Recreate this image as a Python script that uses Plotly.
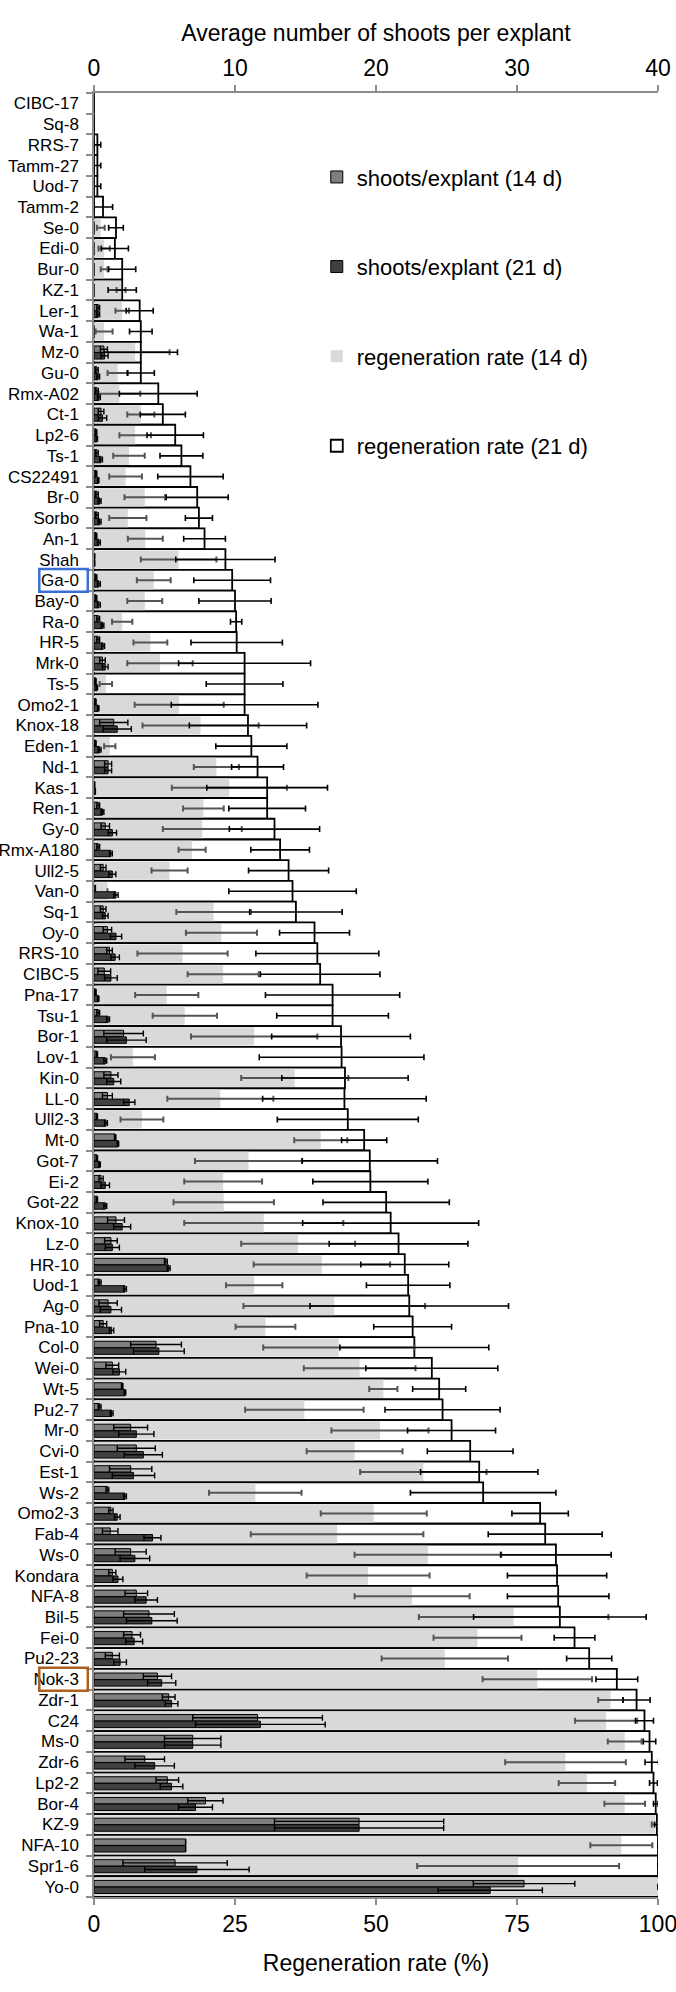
"""
regeneration rate and shoots per explant by accession
"""

import plotly.graph_objects as go

accessions = [
    "CIBC-17", "Sq-8", "RRS-7", "Tamm-27", "Uod-7", "Tamm-2", "Se-0", "Edi-0", "Bur-0", "KZ-1",
    "Ler-1", "Wa-1", "Mz-0", "Gu-0", "Rmx-A02", "Ct-1", "Lp2-6", "Ts-1", "CS22491", "Br-0",
    "Sorbo", "An-1", "Shah", "Ga-0", "Bay-0", "Ra-0", "HR-5", "Mrk-0", "Ts-5", "Omo2-1",
    "Knox-18", "Eden-1", "Nd-1", "Kas-1", "Ren-1", "Gy-0", "Rmx-A180", "Ull2-5", "Van-0", "Sq-1",
    "Oy-0", "RRS-10", "CIBC-5", "Pna-17", "Tsu-1", "Bor-1", "Lov-1", "Kin-0", "LL-0", "Ull2-3",
    "Mt-0", "Got-7", "Ei-2", "Got-22", "Knox-10", "Lz-0", "HR-10", "Uod-1", "Ag-0", "Pna-10",
    "Col-0", "Wei-0", "Wt-5", "Pu2-7", "Mr-0", "Cvi-0", "Est-1", "Ws-2", "Omo2-3", "Fab-4",
    "Ws-0", "Kondara", "NFA-8", "Bil-5", "Fei-0", "Pu2-23", "Nok-3", "Zdr-1", "C24", "Ms-0",
    "Zdr-6", "Lp2-2", "Bor-4", "KZ-9", "NFA-10", "Spr1-6", "Yo-0",
]

# regeneration rate (%) after 21 d / 14 d, with error
regen_21d = [
    0, 0, 0.6, 0.6, 0.6, 1.6, 3.9, 3.7, 5.0, 5.0,
    8.1, 8.3, 8.3, 8.3, 11.4, 12.2, 14.4, 15.5, 17.1, 18.3,
    18.6, 19.6, 23.3, 24.5, 25.0, 25.2, 25.3, 26.7, 26.7, 26.7,
    27.3, 27.9, 29.0, 30.7, 30.7, 32.0, 33.0, 34.5, 35.2, 35.8,
    39.1, 39.6, 40.1, 42.3, 42.3, 43.8, 43.9, 44.5, 44.4, 45.0,
    47.9, 48.9, 49.0, 51.8, 52.6, 54.0, 55.1, 55.7, 55.9, 56.5,
    56.8, 59.9, 61.2, 61.8, 63.4, 66.7, 68.3, 69.0, 79.1, 80.0,
    81.9, 82.1, 82.3, 82.6, 85.2, 87.8, 92.7, 96.2, 97.6, 98.5,
    98.9, 99.2, 99.6, 99.8, 100, 100, 100,
]
regen_21d_err = [
    0, 0, 0.6, 0.6, 0.6, 1.7, 1.3, 2.4, 2.4, 2.5,
    2.4, 2.0, 6.5, 2.4, 6.9, 4.0, 5.0, 3.8, 5.8, 5.5,
    2.4, 3.7, 8.8, 6.8, 6.4, 1.0, 8.1, 11.7, 6.8, 13.0,
    10.4, 6.3, 4.6, 10.7, 6.8, 8.0, 5.2, 7.1, 11.3, 8.2,
    6.2, 10.9, 10.6, 11.9, 9.9, 12.3, 14.6, 11.2, 14.5, 12.5,
    4.0, 12.0, 10.2, 11.2, 15.6, 12.3, 7.8, 7.4, 17.6, 6.9,
    13.2, 11.7, 4.7, 10.2, 7.8, 7.6, 10.4, 12.9, 5.0, 10.1,
    9.8, 8.8, 9.0, 15.3, 3.6, 4.0, 3.7, 2.4, 1.6, 1.1,
    1.2, 0.7, 0.4, 0.4, 0, 0, 0,
]
regen_14d = [
    0, 0, 0, 0, 0, 0, 1.2, 1.8, 1.8, 4.8,
    5.0, 1.8, 7.3, 4.2, 4.5, 8.3, 7.3, 6.2, 5.6, 9.0,
    6.0, 9.1, 15.0, 10.6, 9.0, 5.0, 10.0, 11.7, 2.1, 15.1,
    18.9, 2.8, 21.7, 24.0, 19.4, 19.2, 17.4, 13.4, 2.4, 21.2,
    22.6, 15.7, 22.9, 12.9, 16.1, 28.4, 6.9, 35.6, 22.4, 8.5,
    40.2, 27.4, 22.9, 23.0, 30.1, 36.2, 40.4, 28.4, 42.6, 30.4,
    43.4, 47.1, 51.3, 37.3, 50.7, 46.2, 58.4, 28.6, 49.6, 43.1,
    59.2, 48.6, 56.4, 74.4, 68.0, 62.2, 78.6, 91.6, 90.8, 94.1,
    83.6, 87.4, 94.1, 99.5, 93.5, 75.2, 100,
]
regen_14d_err = [
    0, 0, 0, 0, 0, 0, 0.7, 1.0, 0.6, 0.8,
    1.2, 1.5, 6.1, 1.8, 3.7, 2.4, 2.8, 2.8, 2.9, 3.6,
    3.3, 3.1, 6.7, 3.0, 3.1, 1.8, 3.0, 5.8, 1.1, 7.9,
    10.3, 1.0, 4.0, 10.2, 3.6, 7.0, 2.4, 3.2, 0, 6.6,
    6.3, 8.0, 6.3, 5.6, 5.7, 11.2, 3.9, 9.5, 9.4, 3.8,
    4.7, 9.5, 6.9, 8.9, 14.1, 10.1, 12.1, 5.0, 16.1, 5.3,
    13.4, 9.9, 2.5, 10.5, 8.6, 8.5, 11.2, 8.2, 9.4, 15.3,
    13.0, 10.9, 10.2, 16.8, 7.8, 11.2, 9.7, 2.2, 5.5, 3.0,
    10.7, 5.0, 3.6, 0.6, 5.5, 17.9, 0,
]

# average number of shoots per explant after 14 d / 21 d, with error
shoots_14d = [0] * 10 + [
    0.3, 0, 0.7, 0.2, 0.2, 0.5, 0.15, 0.2, 0.15, 0.2,
    0.2, 0.15, 0.05, 0.15, 0.15, 0.3, 0.3, 0.6, 0.1, 0.1,
    1.4, 0.1, 1.0, 0.05, 0.3, 0.8, 0.3, 0.65, 0.1, 0.65,
    0.95, 1.1, 0.73, 0.1, 0.3, 2.1, 0.2, 1.2, 0.95, 0.2,
    1.5, 0.2, 0.5, 0.2, 1.56, 1.2, 5.1, 0.4, 1.0, 0.65,
    4.4, 1.3, 2.0, 0.4, 2.6, 3.0, 2.6, 0.95, 1.2, 1.15,
    2.6, 1.3, 3.0, 3.9, 2.7, 1.3, 4.5, 5.3, 11.6, 7.0,
    3.6, 5.2, 7.9, 18.8, 6.5, 5.75, 30.5,
]
shoots_14d_err = [0] * 10 + [
    0.1, 0, 0.25, 0.1, 0.1, 0.2, 0.05, 0.1, 0.05, 0.1,
    0.1, 0.05, 0, 0.05, 0.05, 0.1, 0.1, 0.2, 0.05, 0.05,
    1.0, 0.05, 0.25, 0, 0.1, 0.3, 0.1, 0.2, 0, 0.2,
    0.3, 0.2, 0.45, 0.05, 0.1, 1.4, 0.05, 0.5, 0.35, 0.05,
    0.05, 0.05, 0.15, 0.05, 0.6, 0.45, 0.1, 0.1, 0.65, 0.25,
    1.8, 0.45, 0.05, 0.1, 1.2, 1.35, 1.5, 0.1, 0.15, 0.55,
    1.1, 0.25, 0.8, 1.8, 0.6, 0.5, 1.0, 0.45, 4.6, 2.0,
    1.4, 0.8, 1.25, 6.0, 0, 3.7, 3.6,
]
shoots_21d = [0] * 10 + [
    0.3, 0, 0.75, 0.3, 0.35, 0.6, 0.2, 0.5, 0.3, 0.4,
    0.4, 0.35, 0.05, 0.35, 0.35, 0.6, 0.65, 0.8, 0.2, 0.3,
    1.65, 0.4, 1.0, 0.1, 0.6, 1.3, 1.2, 1.3, 1.56, 0.8,
    1.56, 1.5, 1.2, 0.3, 1.0, 2.3, 0.8, 1.4, 2.5, 0.85,
    1.7, 0.4, 0.8, 0.8, 2.0, 1.3, 5.3, 2.2, 1.2, 1.25,
    4.6, 1.8, 2.2, 1.25, 3.0, 3.5, 2.8, 2.2, 1.65, 4.15,
    2.9, 1.7, 3.7, 4.1, 2.85, 1.85, 4.8, 5.5, 11.8, 7.0,
    4.3, 5.5, 7.2, 18.8, 6.5, 7.3, 28.1,
]
shoots_21d_err = [0] * 10 + [
    0.1, 0, 0.25, 0.1, 0.1, 0.3, 0.05, 0.1, 0.05, 0.1,
    0.1, 0.1, 0, 0.1, 0.1, 0.1, 0.1, 0.2, 0.05, 0.05,
    1.0, 0.1, 0.25, 0, 0.1, 0.3, 0.1, 0.25, 0.15, 0.2,
    0.4, 0.3, 0.45, 0.05, 0.1, 1.4, 0.1, 0.5, 0.4, 0.1,
    0.05, 0.05, 0.3, 0.1, 0.6, 0.5, 0.1, 0.1, 0.75, 0.15,
    1.8, 0.45, 0.05, 0.1, 1.25, 1.35, 1.5, 0.1, 0.2, 0.6,
    1.05, 0.35, 0.8, 1.8, 0.6, 0.45, 1.0, 0.45, 4.6, 2.0,
    1.4, 0.8, 1.2, 6.0, 0, 3.7, 3.7,
]

highlighted = {"Ga-0": "#3b6fd6", "Nok-3": "#b0601e"}

FONT = "Arial, Liberation Sans, sans-serif"
AXIS_CLR = "#8c8c8c"
LIGHT_CLR = "#d9d9d9"
S14_CLR = "#7f7f7f"
S21_CLR = "#404040"

pos = list(range(len(accessions)))
n = len(accessions)


def err_points(values, offset):
    """x/y for the error-bar scatter (skip empty rows)"""
    xs = [v if v > 0 else None for v in values]
    ys = [p + offset for p in pos]
    return xs, ys


def err_style(errs, color, thickness):
    return dict(type="data", array=errs, symmetric=True, color=color,
                thickness=thickness, width=3)


fig = go.Figure()

# regeneration rate bars (bottom axis)
fig.add_trace(go.Bar(
    x=regen_21d, y=pos, orientation="h", width=1.0,
    marker=dict(color="white", line=dict(color="black", width=1.8)),
    name="regeneration rate (21 d)", legendrank=4, legendgroup="r21",
    xaxis="x", yaxis="y",
))
fig.add_trace(go.Bar(
    x=regen_14d, y=pos, orientation="h", width=0.88,
    marker=dict(color=LIGHT_CLR, line=dict(width=0)),
    name="regeneration rate (14 d)", legendrank=3, legendgroup="r14",
    xaxis="x", yaxis="y",
))
xs, ys = err_points(regen_14d, 0)
fig.add_trace(go.Scatter(
    x=xs, y=ys, mode="markers", marker=dict(size=0, color="rgba(0,0,0,0)"),
    error_x=err_style(regen_14d_err, "#555555", 2), showlegend=False,
    hoverinfo="skip", xaxis="x", yaxis="y",
))
xs, ys = err_points(regen_21d, 0)
fig.add_trace(go.Scatter(
    x=xs, y=ys, mode="markers", marker=dict(size=0, color="rgba(0,0,0,0)"),
    error_x=err_style(regen_21d_err, "black", 1.6), showlegend=False,
    hoverinfo="skip", xaxis="x", yaxis="y",
))

# shoots per explant bars (top axis)
fig.add_trace(go.Bar(
    x=shoots_14d, y=pos, orientation="h", width=0.31, offset=-0.30,
    marker=dict(color=S14_CLR, line=dict(color="black", width=1)),
    name="shoots/explant (14 d)", legendrank=1, legendgroup="s14",
    xaxis="x2", yaxis="y",
))
fig.add_trace(go.Bar(
    x=shoots_21d, y=pos, orientation="h", width=0.31, offset=0.02,
    marker=dict(color=S21_CLR, line=dict(color="black", width=1)),
    name="shoots/explant (21 d)", legendrank=2, legendgroup="s21",
    xaxis="x2", yaxis="y",
))
xs, ys = err_points(shoots_14d, -0.145)
fig.add_trace(go.Scatter(
    x=xs, y=ys, mode="markers", marker=dict(size=0, color="rgba(0,0,0,0)"),
    error_x=err_style(shoots_14d_err, "black", 1.4), showlegend=False,
    hoverinfo="skip", xaxis="x2", yaxis="y",
))
xs, ys = err_points(shoots_21d, 0.175)
fig.add_trace(go.Scatter(
    x=xs, y=ys, mode="markers", marker=dict(size=0, color="rgba(0,0,0,0)"),
    error_x=err_style(shoots_21d_err, "black", 1.4), showlegend=False,
    hoverinfo="skip", xaxis="x2", yaxis="y",
))

# boxes around highlighted accession labels
for name, clr in highlighted.items():
    i = accessions.index(name)
    fig.add_shape(
        type="rect", xref="paper", yref="y",
        x0=-0.097, x1=-0.011, y0=i - 0.55, y1=i + 0.55,
        line=dict(color=clr, width=2.5), fillcolor="rgba(0,0,0,0)",
    )

axis_common = dict(
    showgrid=False, zeroline=False, showline=True, linecolor=AXIS_CLR, linewidth=1.5,
    ticks="outside", ticklen=6, tickcolor=AXIS_CLR, tickwidth=1.5,
    tickfont=dict(size=23, color="black"), automargin=False, ticklabeloverflow="allow",
)

fig.update_layout(
    width=676,
    height=1992,
    margin=dict(t=93, b=95, l=94, r=18),
    paper_bgcolor="white",
    plot_bgcolor="white",
    font=dict(family=FONT, color="black"),
    barmode="overlay",
    xaxis=dict(
        range=[0, 100], tickvals=[0, 25, 50, 75, 100], side="bottom",
        title=dict(text="Regeneration rate (%)", font=dict(size=23), standoff=19),
        **axis_common,
    ),
    xaxis2=dict(
        range=[0, 40], tickvals=[0, 10, 20, 30, 40], side="top", overlaying="x",
        anchor="y",
        title=dict(text="Average number of shoots per explant", font=dict(size=23), standoff=7),
        **axis_common,
    ),
    yaxis=dict(
        range=[n - 0.5, -0.5], tickmode="array", tickvals=pos, ticktext=accessions,
        showgrid=False, zeroline=False, showline=True, linecolor=AXIS_CLR, linewidth=1.5,
        ticks="", ticklabelstandoff=10, tickfont=dict(size=17, color="black"),
        automargin=False,
        minor=dict(tickmode="linear", tick0=0.5, dtick=1, ticks="outside",
                   ticklen=6, tickcolor=AXIS_CLR, tickwidth=1.5, showgrid=False),
    ),
    legend=dict(
        x=0.395, y=0.965, xanchor="left", yanchor="top",
        bgcolor="rgba(0,0,0,0)", font=dict(size=22),
        tracegroupgap=58,
    ),
)

# page margin off so the 676x1992 figure fills the window exactly
fig.write_html(
    "out.html",
    config={"displayModeBar": False},
    post_script="document.body.style.margin='0';"
                "document.documentElement.style.overflow='hidden';",
)
